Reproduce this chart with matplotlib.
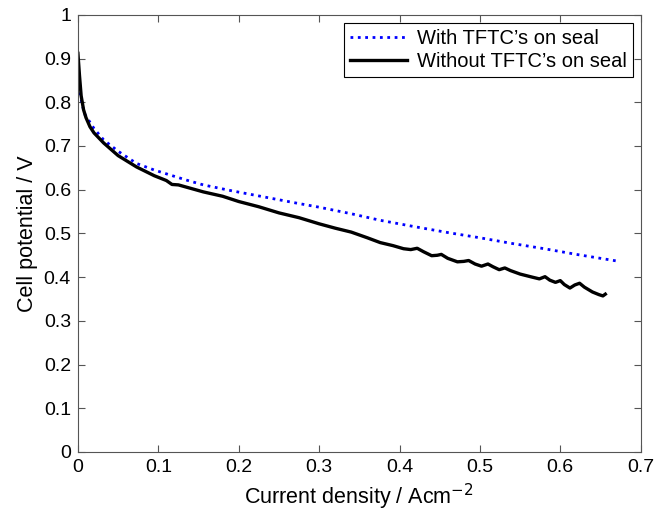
import matplotlib
matplotlib.use("Agg")
import matplotlib.pyplot as plt

# polarisation curves
x_with = [0.000, 0.003, 0.006, 0.009, 0.013, 0.020, 0.032, 0.050, 0.073, 0.095,
          0.114, 0.135, 0.156, 0.190, 0.230, 0.270, 0.300, 0.340, 0.376, 0.420,
          0.460, 0.500, 0.540, 0.580, 0.620, 0.650, 0.670]
y_with = [0.856, 0.815, 0.790, 0.771, 0.760, 0.740, 0.714, 0.688, 0.660, 0.645,
          0.634, 0.622, 0.611, 0.598, 0.584, 0.570, 0.560, 0.545, 0.530, 0.515,
          0.502, 0.490, 0.477, 0.465, 0.452, 0.443, 0.437]

x_without = [0.000, 0.002, 0.004, 0.007, 0.010, 0.015, 0.020, 0.032, 0.050, 0.073,
             0.095, 0.110, 0.117, 0.125, 0.156, 0.180, 0.200, 0.225, 0.250, 0.275,
             0.300, 0.320, 0.340, 0.360, 0.376, 0.392, 0.405, 0.414, 0.422, 0.430,
             0.440, 0.447, 0.452, 0.460, 0.472, 0.480, 0.486, 0.494, 0.502, 0.510,
             0.516, 0.524, 0.531, 0.538, 0.550, 0.565, 0.574, 0.581, 0.587, 0.594,
             0.600, 0.605, 0.612, 0.618, 0.624, 0.630, 0.640, 0.648, 0.653, 0.656]
y_without = [0.912, 0.860, 0.815, 0.783, 0.765, 0.744, 0.730, 0.707, 0.678, 0.652,
             0.632, 0.621, 0.612, 0.611, 0.595, 0.585, 0.573, 0.561, 0.547, 0.536,
             0.522, 0.512, 0.503, 0.490, 0.479, 0.472, 0.465, 0.463, 0.466, 0.458,
             0.449, 0.450, 0.452, 0.443, 0.435, 0.436, 0.438, 0.430, 0.425, 0.430,
             0.424, 0.417, 0.421, 0.415, 0.407, 0.400, 0.396, 0.401, 0.393, 0.388,
             0.392, 0.383, 0.375, 0.382, 0.386, 0.377, 0.366, 0.360, 0.357, 0.361]

plt.rcParams['font.family'] = ['Liberation Sans', 'DejaVu Sans']

fig = plt.figure(figsize=(6.66, 5.13), dpi=100)
ax = fig.add_axes([0.117, 0.119, 0.845, 0.852])

ax.plot(x_with, y_with, linestyle=':', color='#0000ff', linewidth=2,
        label="With TFTC\u2019s on seal")
ax.plot(x_without, y_without, linestyle='-', color='black', linewidth=2.4,
        solid_joinstyle='round', label="Without TFTC\u2019s on seal")

ax.set_xlim(0, 0.7)
ax.set_ylim(0, 1)
ax.set_xticks([0, 0.1, 0.2, 0.3, 0.4, 0.5, 0.6, 0.7])
ax.set_xticklabels(['0', '0.1', '0.2', '0.3', '0.4', '0.5', '0.6', '0.7'])
ax.set_yticks([i / 10 for i in range(11)])
ax.set_yticklabels(['0', '0.1', '0.2', '0.3', '0.4', '0.5', '0.6', '0.7', '0.8', '0.9', '1'])
ax.tick_params(direction='in', top=True, right=True, length=5, labelsize=14,
               color='#555555', pad=5)
for s in ax.spines.values():
    s.set_color('#555555')

ax.set_xlabel('Current density / Acm$^{-2}$', fontsize=15.5, labelpad=4)
ax.set_ylabel('Cell potential / V', fontsize=15.5, labelpad=4)

leg = ax.legend(loc='upper right', fontsize=14.5, fancybox=False, framealpha=1,
                edgecolor='black', handlelength=2.8, borderaxespad=0.4,
                borderpad=0.3, labelspacing=0.2, handletextpad=0.5)
leg.get_frame().set_linewidth(0.8)

fig.savefig('out.png', dpi=100)
